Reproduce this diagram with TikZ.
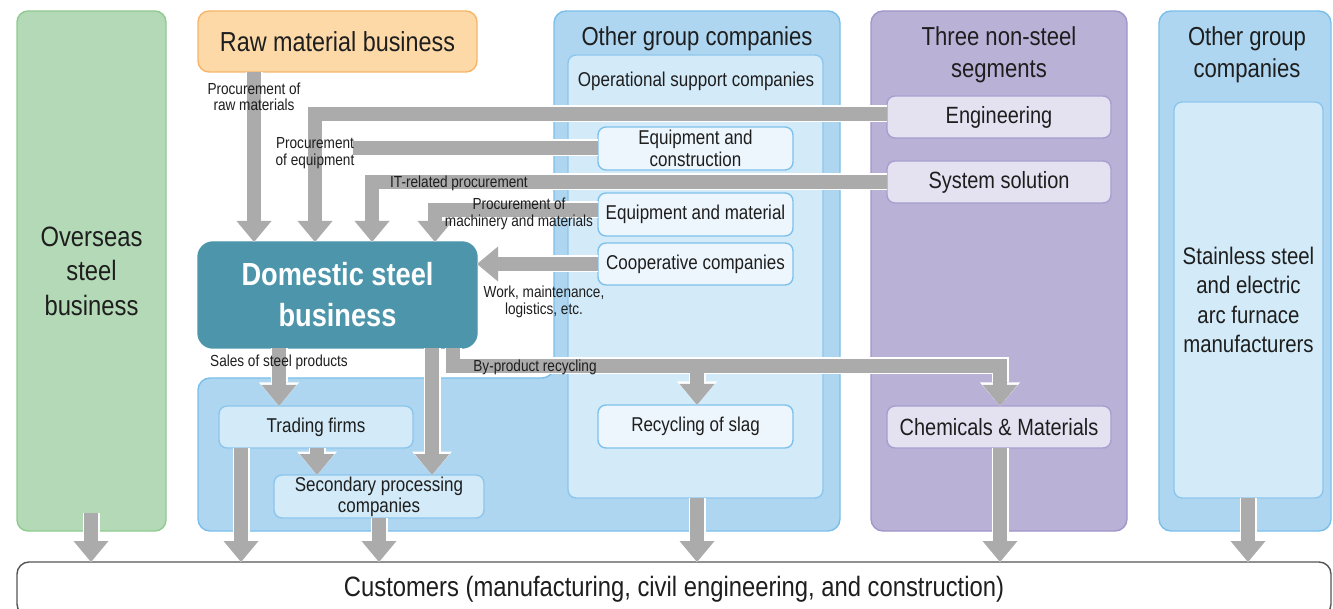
\documentclass[tikz,border=0pt]{standalone}
\usepackage{fontspec}
\setmainfont{Liberation Sans}[FakeStretch=0.85]
\usetikzlibrary{arrows.meta}
\definecolor{gfill}{HTML}{B3D9B6}
\definecolor{gline}{HTML}{8FCB8F}
\definecolor{ofill}{HTML}{FDD9A8}
\definecolor{oline}{HTML}{F6B568}
\definecolor{teal}{HTML}{4C95AA}
\definecolor{bfill}{HTML}{AED6F1}
\definecolor{bline}{HTML}{7ABFEA}
\definecolor{ifill}{HTML}{D3EAF8}
\definecolor{iline}{HTML}{8CC6EC}
\definecolor{lfill}{HTML}{EEF6FD}
\definecolor{lline}{HTML}{7FC1ED}
\definecolor{pfill}{HTML}{BAB1D7}
\definecolor{pline}{HTML}{A195CA}
\definecolor{pifill}{HTML}{E4E1F1}
\definecolor{piline}{HTML}{A89ECF}
\definecolor{agray}{HTML}{ABABAB}
\definecolor{cline}{HTML}{555555}
\definecolor{txt}{HTML}{1E1E1E}
\newcommand\bx[7]{\node[#2, minimum width={(#5-#3)*1pt}, minimum height={(#6-#4)*1pt}] (#1) at ({(#3+#5)/2},{(#4+#6)/2}) {#7};}
\newcommand\fsz[2]{\fontsize{#1}{#2}\selectfont}
\newcommand\flows[1]{%
 \draw[#1] (raw.south -| xA) -- (dom.north -| xA);
 \draw[#1] (eng.west |- yE) -- (xB |- yE) -- (dom.north -| xB);
 \draw[#1,-] (eqc.west |- yQ) -- (xQ |- yQ);
 \draw[#1] (sys.west |- yT) -- (xC |- yT) -- (dom.north -| xC);
 \draw[#1] (eqm.west |- yM) -- (xD |- yM) -- (dom.north -| xD);
 \draw[#1] (coop.west |- yC) -- (dom.east |- yC);
 \draw[#1] (dom.south -| xS) -- (trade.north -| xS);
 \draw[#1] (dom.south -| xE) -- (sec.north -| xE);
 \draw[#1] (dom.south -| xF) -- (xF |- yB) -- (xH |- yB) -- (chem.north -| xH);
 \draw[#1] (xG |- yB) -- (slag.north -| xG);
 \draw[#1] (trade.south -| xK) -- (sec.north -| xK);
 \draw[#1] (ovb) -- (cust.north -| ovb);
 \draw[#1] (trade.south -| xI) -- (cust.north -| xI);
 \draw[#1] (sec.south -| xJ) -- (cust.north -| xJ);
 \draw[#1] (ops.south -| xG) -- (cust.north -| xG);
 \draw[#1] (chem.south -| xH) -- (cust.north -| xH);
 \draw[#1] (stain.south -| xR) -- (cust.north -| xR);
}
\begin{document}
\begin{tikzpicture}[x=1pt,y=-1pt,
  box/.style={draw, line width=1.4pt, inner sep=0pt, outer sep=0pt, align=center, text=txt, rounded corners=11pt},
  gbox/.style={box, fill=gfill, draw=gline, font=\fsz{28}{34.5}},
  obox/.style={box, fill=ofill, draw=oline, font=\fsz{27.5}{32}},
  tbox/.style={box, fill=teal, draw=teal, rounded corners=15pt, text=white, font=\bfseries\fsz{32}{41}},
  bbox/.style={box, fill=bfill, draw=bline, rounded corners=12pt},
  ibox/.style={box, fill=ifill, draw=iline, rounded corners=8pt, font=\fsz{20}{21}},
  lbox/.style={box, fill=lfill, draw=lline, rounded corners=8pt, font=\fsz{20}{22}},
  pbox/.style={box, fill=pfill, draw=pline, rounded corners=12pt},
  pibox/.style={box, fill=pifill, draw=piline, rounded corners=8pt, font=\fsz{23.5}{28}},
  cbox/.style={box, fill=white, draw=cline, rounded corners=12pt, font=\fsz{28}{32}},
  title/.style={align=center, text=txt, inner sep=0pt, font=\fsz{26}{32}},
  lab/.style={align=center, text=txt, inner sep=0pt, font=\fsz{16}{16.5}},
  flow/.style={draw=agray, line width=14pt, line join=miter, -{Triangle[length=21pt,width=35pt,line width=0pt]}},
  flowbg/.style={draw=white, line width=17pt, line join=miter, -{Triangle[length=23.5pt,width=40pt,line width=0pt]}}
]
\useasboundingbox (0,0) rectangle (1333,609);
% containers
\bx{overseas}{gbox}{17}{11}{166}{531}{Overseas\\steel\\business}
\bx{raw}{obox}{198}{11}{477}{72}{Raw material business}
\path[draw=bline, fill=bfill, line width=1.4pt, rounded corners=12pt]
  (300,378) -- (554,378) -- (554,11) -- (840,11) -- (840,531) -- (198,531) -- (198,378) -- cycle;
\node[title] (ogt) at (697,38.5) {Other group companies};
\bx{ops}{ibox}{568}{55}{823}{498}{}
\node[title, font=\fsz{20}{22}] (opt) at (696,81.5) {Operational support companies};
\bx{eqc}{lbox}{598}{127}{793}{170}{Equipment and\\construction}
\bx{eqm}{lbox}{598}{193}{793}{236}{Equipment and material}
\bx{coop}{lbox}{598}{243}{793}{285}{Cooperative companies}
\bx{slag}{lbox}{598}{405}{793}{448}{Recycling of slag}
\bx{trade}{ibox}{219}{406}{413}{448}{Trading firms}
\bx{sec}{ibox}{274}{475}{484}{518}{Secondary processing\\companies}
\bx{nonsteel}{pbox}{871}{11}{1127}{531}{}
\node[title] (nst) at (999,55) {Three non-steel\\segments};
\bx{eng}{pibox}{887}{96}{1111}{138}{Engineering}
\bx{sys}{pibox}{887}{161}{1111}{203}{System solution}
\bx{chem}{pibox}{887}{406}{1111}{448}{Chemicals \& Materials}
\bx{ogr}{bbox}{1159}{11}{1331}{531}{}
\node[title] (ogrt) at (1247,55) {Other group\\companies};
\bx{stain}{ibox,font=\fsz{24}{29.5}}{1174}{102}{1323}{498}{Stainless steel\\and electric\\arc furnace\\manufacturers}
\bx{dom}{tbox}{198}{242}{477}{348}{Domestic steel\\business}
\bx{cust}{cbox}{17}{562}{1331}{616}{Customers (manufacturing, civil engineering, and construction)}
% guide coordinates
\coordinate (xA) at (254,0);
\coordinate (xB) at (315,0);
\coordinate (xC) at (372,0);
\coordinate (xD) at (435,0);
\coordinate (xQ) at (353,0);
\coordinate (xS) at (279,0);
\coordinate (xE) at (432,0);
\coordinate (xF) at (453,0);
\coordinate (xG) at (697,0);
\coordinate (xH) at (1000,0);
\coordinate (xK) at (317,0);
\coordinate (xI) at (241,0);
\coordinate (xJ) at (379,0);
\coordinate (xR) at (1248,0);
\coordinate (ovb) at (91,513);
\coordinate (yE) at (0,114);
\coordinate (yQ) at (0,148);
\coordinate (yT) at (0,182);
\coordinate (yM) at (0,210);
\coordinate (yC) at (0,264);
\coordinate (yB) at (0,366);
% flows
\flows{flowbg}
\flows{flow}
% labels
\node[lab] (lraw) at (254,97) {Procurement of\\raw materials};
\node[lab] (leqp) at (315,153) {Procurement\\of equipment};
\node[lab] (lit) at (459,183) {IT-related procurement};
\node[lab] (lmach) at (519,214) {Procurement of\\machinery and materials};
\node[lab] (lwork) at (544,302) {Work, maintenance,\\logistics, etc.};
\node[lab] (lsales) at (279,362) {Sales of steel products};
\node[lab] (lby) at (535,367) {By-product recycling};
\end{tikzpicture}
\end{document}
